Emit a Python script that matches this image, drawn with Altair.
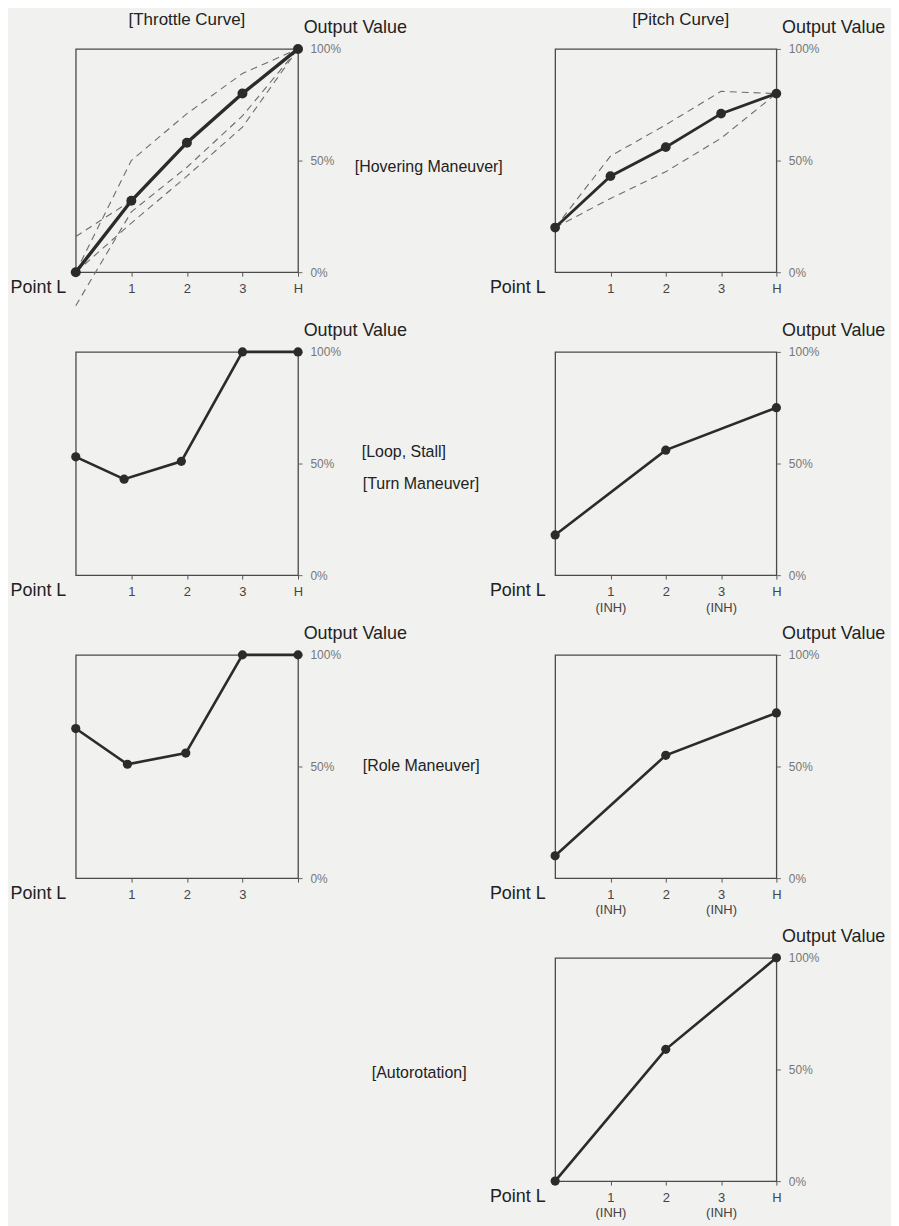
import json
import altair as alt
import pandas as pd

FONT = "Liberation Sans"
INK = "#2b2b2b"

# ---------------- data ----------------
x_positions = [0, 1, 2, 3, 4]
x_labels = ["Point L", "1", "2", "3", "H"]
x_labels_no_h = ["Point L", "1", "2", "3", ""]
x_labels_inh = [["Point L"], ["1", "(INH)"], ["2"], ["3", "(INH)"], ["H"]]
y_ticks = [0, 50, 100]

throttle_x = [0, 1, 2, 3, 4]
throttle_y = [0, 32, 58, 80, 100]
throttle_dash_a = [0, 50, 71, 89, 100]
throttle_dash_b = [16, 32, 58, 80, 100]
throttle_dash_c = [0, 22, 43, 65, 100]
throttle_dash_d = [-15, 27, 47, 70, 100]

pitch_x = [0, 1, 2, 3, 4]
pitch_y = [20, 43, 56, 71, 80]
pitch_dash_up = [20, 52, 66, 81, 80]
pitch_dash_low = [20, 33, 45, 60, 80]

loop_x = [0, 0.87, 1.9, 3, 4]
loop_y = [53, 43, 51, 100, 100]

turn_pitch_x = [0, 2, 4]
turn_pitch_y = [18, 56, 75]

role_x = [0, 0.93, 1.98, 3, 4]
role_y = [67, 51, 56, 100, 100]

role_pitch_x = [0, 2, 4]
role_pitch_y = [10, 55, 74]

auto_x = [0, 2, 4]
auto_y = [0, 59, 100]

throttle_title = "[Throttle Curve]"
pitch_title = "[Pitch Curve]"
y_title = "Output Value"
label_hover = "[Hovering Maneuver]"
label_loop = "[Loop, Stall]"
label_turn = "[Turn Maneuver]"
label_role = "[Role Maneuver]"
label_auto = "[Autorotation]"


def is0(v_true, v_false):
    return {"condition": {"test": "datum.value == 0", "value": v_true}, "value": v_false}


def encodings(labels):
    xenc = alt.X(
        "x:Q",
        scale=alt.Scale(domain=[0, 4], nice=False, zero=False),
        axis=alt.Axis(
            values=x_positions,
            labelExpr=json.dumps(labels) + "[datum.value]",
            title=None,
            domain=False,
            grid=False,
            tickSize=is0(0, 4),
            tickColor="#555",
            labelAlign=is0("right", "center"),
            labelFontSize=is0(18, 13),
            labelColor=is0("#222", "#444"),
            labelOffset=is0(-10, 0),
            labelBaseline="top",
            labelPadding=6,
            labelFont=FONT,
            labelLineHeight=16,
            labelFlush=False,
            labelOverlap=False,
            labelBound=False,
        ),
    )
    yenc = alt.Y(
        "y:Q",
        scale=alt.Scale(domain=[0, 100], nice=False),
        axis=alt.Axis(
            orient="right",
            values=y_ticks,
            labelExpr="datum.value + '%'",
            title=y_title,
            titleAngle=0,
            titleAlign="center",
            titleBaseline="middle",
            titleX=57,
            titleY=-21,
            titleFont=FONT,
            titleFontSize=18,
            titleFontWeight="normal",
            titleColor="#222",
            labelFont=FONT,
            labelFontSize=12,
            labelColor="#777",
            tickSize=4,
            tickColor="#666",
            labelPadding=8,
            domain=False,
            grid=False,
            labelFlush=False,
            labelOverlap=False,
        ),
    )
    return xenc, yenc


def text_layer(text, px, py):
    return alt.Chart(pd.DataFrame({"t": [text]})).mark_text(
        font=FONT, fontSize=16, color="#222", align="left", baseline="middle"
    ).encode(text="t:N", x=alt.value(px), y=alt.value(py))


def panel(xs, ys, labels, width, dashes=None, thick=2.6, pt=85, title=None, title_dx=0, texts=None):
    xenc, yenc = encodings(labels)
    df = pd.DataFrame({"x": xs, "y": ys})
    layers = []
    if dashes:
        rows = []
        for name, vals in dashes:
            for xv, yv in zip(x_positions, vals):
                rows.append({"s": name, "x": xv, "y": yv})
        layers.append(
            alt.Chart(pd.DataFrame(rows)).mark_line(
                color="#6c6c6c", strokeWidth=1.1, strokeDash=[7, 5], clip=False
            ).encode(x=xenc, y=yenc, detail="s:N")
        )
    layers.append(alt.Chart(df).mark_line(color=INK, strokeWidth=thick).encode(x=xenc, y=yenc))
    layers.append(alt.Chart(df).mark_circle(color=INK, size=pt, opacity=1).encode(x=xenc, y=yenc))
    if texts:
        for t, px, py in texts:
            layers.append(text_layer(t, px, py))
    ch = alt.layer(*layers).properties(width=width, height=224)
    if title:
        ch = ch.properties(
            title=alt.TitleParams(
                text=title, font=FONT, fontSize=17, fontWeight="normal", color="#222",
                offset=-10, dx=title_dx,
            )
        )
    return ch


throttle = panel(
    throttle_x, throttle_y, x_labels, 223,
    dashes=[("a", throttle_dash_a), ("b", throttle_dash_b), ("c", throttle_dash_c), ("d", throttle_dash_d)],
    thick=3.4, pt=100, title=throttle_title,
    texts=[(label_hover, 280, 118)],
)
pitch = panel(
    pitch_x, pitch_y, x_labels, 222,
    dashes=[("up", pitch_dash_up), ("low", pitch_dash_low)],
    thick=2.8, pt=95, title=pitch_title, title_dx=15,
)
loop = panel(
    loop_x, loop_y, x_labels, 223,
    texts=[(label_loop, 287, 100), (label_turn, 288, 133)],
)
turn_pitch = panel(turn_pitch_x, turn_pitch_y, x_labels_inh, 222)
role = panel(role_x, role_y, x_labels_no_h, 223, texts=[(label_role, 288, 112)])
role_pitch = panel(role_pitch_x, role_pitch_y, x_labels_inh, 222)
auto_label = text_layer(label_auto, 297, 116).properties(
    width=223, height=224, view=alt.ViewBackground(strokeOpacity=0)
)
auto = panel(auto_x, auto_y, x_labels_inh, 222)

chart = alt.concat(
    throttle, pitch, loop, turn_pitch, role, role_pitch, auto_label, auto,
    columns=2,
    spacing={"row": 80, "column": 258},
    bounds="flush",
).properties(
    padding={"left": 1, "top": 0, "right": 5, "bottom": 5},
    background="#f1f1ef",
).configure_view(stroke="#4a4a4a", strokeWidth=1.3)

chart.save("out.html", embed_options={"renderer": "svg", "actions": False})
